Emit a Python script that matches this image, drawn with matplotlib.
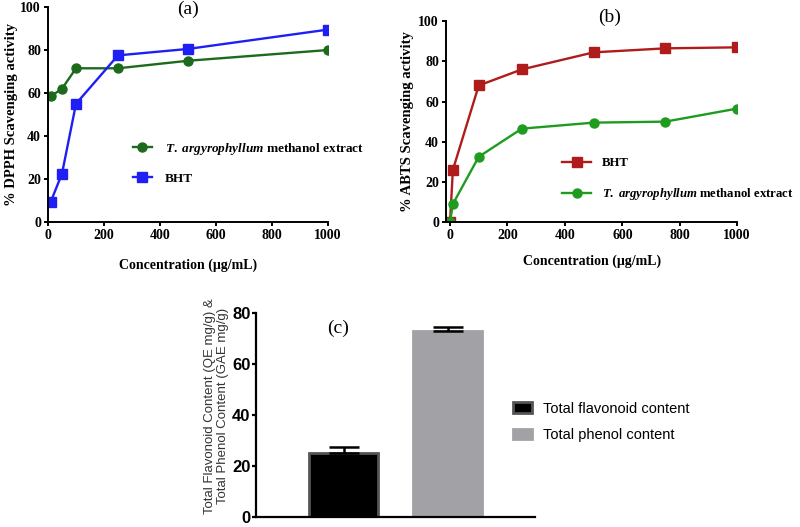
import numpy as np
import matplotlib
matplotlib.use('Agg')
import matplotlib.pyplot as plt

plt.rcParams['font.family'] = ['Liberation Serif', 'DejaVu Serif']
plt.rcParams['font.weight'] = 'bold'
plt.rcParams['axes.labelweight'] = 'bold'
plt.rcParams['mathtext.fontset'] = 'custom'
plt.rcParams['mathtext.it'] = 'Liberation Serif:italic:bold'
plt.rcParams['mathtext.rm'] = 'Liberation Serif:bold'

# (a) DPPH
conc_a = [10, 50, 100, 250, 500, 1000]
dpph_extract = [58.5, 62, 71.5, 71.5, 75, 80]
dpph_bht = [9.5, 22.5, 55, 77.5, 80.5, 89.5]

# (b) ABTS
conc_b = [0, 10, 100, 250, 500, 750, 1000]
abts_bht = [0, 26, 68, 76, 84.5, 86.5, 87]
abts_extract = [0, 9, 32.5, 46.5, 49.5, 50, 56.5]

# (c) contents
content_labels = ['Total flavonoid content', 'Total phenol content']
content_values = [25, 73]
content_err = [2.5, 1.5]

ext_label = r'$\mathit{T.\ argyrophyllum}$ methanol extract'
sans = ['Liberation Sans', 'DejaVu Sans']

fig = plt.figure(figsize=(8, 5.27), dpi=100)


def style_ax(ax):
    for s in ['top', 'right']:
        ax.spines[s].set_visible(False)
    for s in ['left', 'bottom']:
        ax.spines[s].set_linewidth(1.4)
    ax.tick_params(direction='out', width=1.4, length=3, pad=2, labelsize=10)
    for t in ax.get_xticklabels() + ax.get_yticklabels():
        t.set_fontweight('bold')


# ---- (a)
ax1 = fig.add_axes([0.06, 0.5787, 0.35, 0.408])
ax1.plot(conc_a, dpph_extract, '-o', color='#1d6a1d', lw=1.7, ms=6.5, label=ext_label)
ax1.plot(conc_a, dpph_bht, '-s', color='#1f1ff5', lw=1.7, ms=6.5, label='BHT')
ax1.set_xlim(0, 1000)
ax1.set_ylim(0, 100)
ax1.set_xticks(np.arange(0, 1001, 200))
ax1.set_yticks(np.arange(0, 101, 20))
style_ax(ax1)
ax1.set_xlabel('Concentration (μg/mL)', fontsize=10, fontweight='bold', labelpad=12)
ax1.set_ylabel('% DPPH Scavenging activity', fontsize=10.5, fontweight='bold', labelpad=2)
ax1.text(0.5, 0.99, '(a)', transform=ax1.transAxes, ha='center', va='center',
         fontsize=14, fontweight='normal')
ax1.legend(loc='upper left', bbox_to_anchor=(0.166, 0.7324), bbox_transform=fig.transFigure,
           frameon=False, fontsize=9.5, handlelength=1.45, handletextpad=1.0,
           labelspacing=1.2, borderpad=0, borderaxespad=0)

# ---- (b)
ax2 = fig.add_axes([0.5575, 0.5787, 0.364, 0.381])
ax2.plot(conc_b, abts_bht, '-s', color='#b01c1c', lw=1.7, ms=6.5, label='BHT')
ax2.plot(conc_b, abts_extract, '-o', color='#1f9c1f', lw=1.7, ms=6.5, label=ext_label)
ax2.set_xlim(-14, 1000)
ax2.set_ylim(0, 100)
ax2.set_xticks(np.arange(0, 1001, 200))
ax2.set_yticks(np.arange(0, 101, 20))
style_ax(ax2)
ax2.set_xlabel('Concentration (μg/mL)', fontsize=10, fontweight='bold', labelpad=9)
ax2.set_ylabel('% ABTS Scavenging activity', fontsize=10.5, fontweight='bold', labelpad=3)
ax2.text(0.56, 1.02, '(b)', transform=ax2.transAxes, ha='center', va='center',
         fontsize=14, fontweight='normal')
ax2.legend(loc='upper left', bbox_to_anchor=(0.7025, 0.702), bbox_transform=fig.transFigure,
           frameon=False, fontsize=9.2, handlelength=2.3, handletextpad=0.8,
           labelspacing=1.35, borderpad=0, borderaxespad=0)

# ---- (c)
ax3 = fig.add_axes([0.32, 0.019, 0.349, 0.387])
pos = np.arange(len(content_values))
bars = ax3.bar(pos, content_values, width=0.66, color=['black', '#a2a2a6'],
               edgecolor=['#555555', '#a2a2a6'], linewidth=2, label=content_labels)
ax3.errorbar(pos, content_values, yerr=[[0, 0], content_err], fmt='none',
             ecolor='black', elinewidth=1.8, capsize=11, capthick=1.8)
ax3.set_xlim(-0.84, 1.84)
ax3.set_ylim(0, 80)
ax3.set_yticks(np.arange(0, 81, 20))
ax3.set_xticks([])
for s in ['top', 'right']:
    ax3.spines[s].set_visible(False)
for s in ['left', 'bottom']:
    ax3.spines[s].set_linewidth(1.6)
ax3.tick_params(axis='y', direction='out', width=1.6, length=3, pad=1, labelsize=12)
for t in ax3.get_yticklabels():
    t.set_family(sans)
    t.set_fontweight('bold')
ax3.set_ylabel('Total Flavonoid Content (QE mg/g) &\nTotal Phenol Content (GAE mg/g)',
               family=sans, fontweight='normal', fontsize=9.5, color='#333333',
               linespacing=1.05)
ax3.yaxis.set_label_coords(-0.097, 0.545)
ax3.text(0.294, 0.926, '(c)', transform=ax3.transAxes, ha='center', va='center',
         fontsize=14, fontweight='normal')
ax3.legend(handles=bars.patches, labels=content_labels, loc='upper left',
           bbox_to_anchor=(0.641, 0.238), bbox_transform=fig.transFigure,
           frameon=False, handlelength=1.35, handleheight=0.75, handletextpad=0.7,
           labelspacing=0.85, borderpad=0, borderaxespad=0,
           prop={'family': sans, 'weight': 'normal', 'size': 10.5})

fig.savefig('out.png', dpi=100)
